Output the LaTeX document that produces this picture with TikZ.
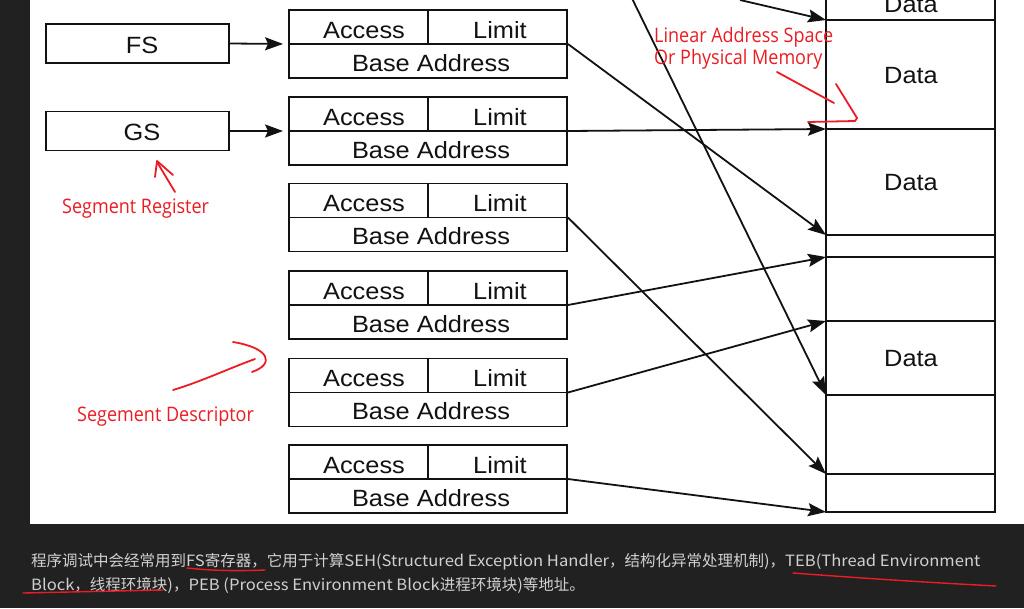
\documentclass[tikz,border=0pt]{standalone}
\usepackage{fontspec}
\setmainfont{Liberation Sans}
\newfontfamily\diag[FakeStretch=1.08]{Liberation Sans}
\newfontfamily\redf[FakeStretch=0.9]{Open Sans}
\newfontfamily\cjk{Noto Sans CJK SC}
\newfontfamily\cjklat[FakeStretch=1.07]{Noto Sans CJK SC}
\newcommand{\lt}[1]{{\cjklat #1}}
\usetikzlibrary{arrows.meta}
\definecolor{bgdark}{RGB}{33,33,33}
\definecolor{txtgray}{RGB}{208,208,208}
\definecolor{annred}{RGB}{236,28,36}
\definecolor{ink}{RGB}{18,18,18}
\begin{document}
\begin{tikzpicture}[x=1pt,y=-1pt,
  inkline/.style={draw=ink,line width=1.9pt},
  regbox/.style={inkline,minimum width=183pt,minimum height=39pt,inner sep=0pt},
  descbox/.style={inkline,minimum width=278pt,minimum height=68pt,inner sep=0pt},
  lbl/.style={font=\diag\fontsize{23.5}{26}\selectfont,text=ink,inner sep=0pt,anchor=base},
  arr/.style={draw=ink,line width=1.8pt,-{Stealth[length=18pt,width=13pt,inset=3pt]}},
  redtxt/.style={font=\redf\fontsize{20}{22}\selectfont,text=annred,inner sep=0pt,anchor=base west},
  redpen/.style={draw=annred,line width=1.8pt,line cap=round,line join=round},
  bottomtxt/.style={font=\cjk\fontsize{15.5}{18}\selectfont,text=txtgray,inner sep=0pt,anchor=base west}
]
\useasboundingbox (0,0) rectangle (1024,608);
\fill[bgdark] (0,0) rectangle (1024,608);
\fill[white] (30,0) rectangle (1024,524);

\begin{scope}
\clip (30,0) rectangle (1024,524);
% registers
\node[regbox] (fs) at (137.5,43.5) {};
\node[lbl] at (142,53) {FS};
\node[regbox] (gs) at (137.5,131) {};
\node[lbl] at (142,140) {GS};

% descriptors
\foreach \i/\y in {1/44,2/131,3/217.5,4/305,5/392.5,6/479} {
  \node[descbox] (d\i) at (428,\y) {};
  \draw[inkline] (d\i.west) -- (d\i.east);
  \draw[inkline] (d\i.north) -- (d\i.center);
  \node[lbl] at (364,\y-6) {Access};
  \node[lbl] at (500,\y-6) {Limit};
  \node[lbl] at (431,\y+27) {Base Address};
}

\draw[arr,shorten >=5pt] (fs.east) -- (d1.west);
\draw[arr,shorten >=5pt] (gs.east) -- (d2.west);

% memory column
\draw[inkline] (826,-10) -- (826,512) -- (995,512) -- (995,-10);
\foreach \yy in {20,129,235,257,321,395,474} {
  \draw[inkline] (826,\yy) -- (995,\yy);
}
\node[lbl] at (911,12) {Data};
\node[lbl] at (911,83) {Data};
\node[lbl] at (911,190) {Data};
\node[lbl] at (911,366) {Data};

\coordinate (m20) at (826,20);
\coordinate (m129) at (826,129);
\coordinate (m235) at (826,235);
\coordinate (m257) at (826,257);
\coordinate (m321) at (826,321);
\coordinate (m395) at (826,395);
\coordinate (m474) at (826,474);
\coordinate (m512) at (826,512);
\coordinate (t1) at (623,-20);
\coordinate (t2) at (740,0);

\draw[arr] (d1.east) -- (m235);
\draw[arr] (d2.east) -- (m129);
\draw[arr] (d3.east) -- (m474);
\draw[arr] (d4.east) -- (m257);
\draw[arr] (d5.east) -- (m321);
\draw[arr] (d6.east) -- (m512);
\draw[arr] (t1) -- (m395);
\draw[arr] (t2) -- (m20);

% red annotations
\node[redtxt] at (654,42) {Linear Address Space};
\node[redtxt] at (654,64) {Or Physical Memory};
\draw[redpen] (777,72) -- (834,103);
\draw[redpen] (836,84) -- (857,118) -- (855,121) -- (808,122);

\node[redtxt] at (62,213) {Segment Register};
\draw[redpen] (175,192) -- (157,162);
\draw[redpen] (155,177) -- (157,161) -- (173,175);

\node[redtxt] at (77,421) {Segement Descriptor};
\draw[redpen] (173,390) .. controls (200,382) and (230,368) .. (255,359);
\draw[redpen] (233,342) .. controls (270,348) and (275,364) .. (252,372);
\end{scope}

% bottom text
\node[bottomtxt] (l1) at (31,566) {程序调试中会经常用到\lt{FS}寄存器，它用于计算\lt{SEH(Structured Exception Handler}，结构化异常处理机制\lt{)}，\lt{TEB(Thread Environment}};
\node[bottomtxt] (l2) at (31,590) {\lt{Block}，线程环境块\lt{)}，\lt{PEB (Process Environment Block}进程环境块\lt{)}等地址。};
\draw[redpen,line width=1.4pt] (187,568) .. controls (215,571) and (240,571) .. (265,570);
\draw[redpen,line width=1.4pt] (23,593) -- (163,590);
\draw[redpen,line width=1.4pt] (793,573) .. controls (860,578) and (920,582) .. (996,586);
\end{tikzpicture}
\end{document}
